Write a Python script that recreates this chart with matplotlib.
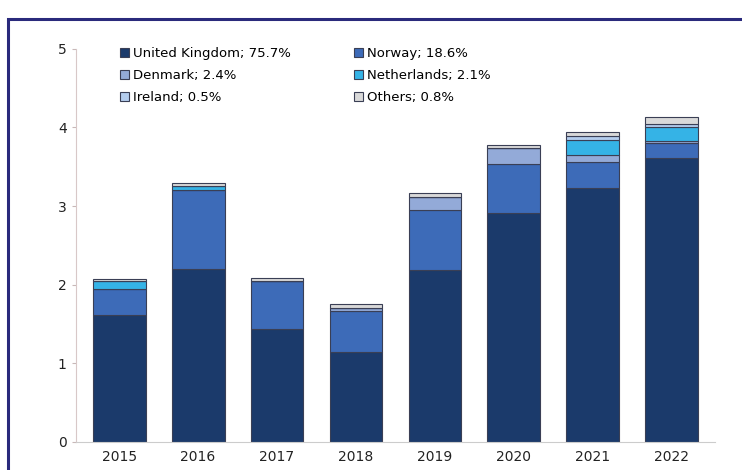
import matplotlib.pyplot as plt
import matplotlib.patches as mpatches
import numpy as np

years = ["2015", "2016", "2017", "2018", "2019", "2020", "2021", "2022"]
uk = [1.61, 2.20, 1.44, 1.14, 2.19, 2.91, 3.23, 3.61]
norway = [0.34, 1.01, 0.61, 0.53, 0.76, 0.62, 0.33, 0.19]
denmark = [0.00, 0.00, 0.00, 0.03, 0.16, 0.21, 0.09, 0.03]
netherlands = [0.10, 0.04, 0.00, 0.00, 0.00, 0.00, 0.19, 0.17]
ireland = [0.00, 0.00, 0.00, 0.00, 0.00, 0.00, 0.05, 0.05]
others = [0.02, 0.04, 0.03, 0.05, 0.06, 0.04, 0.05, 0.08]

series = [
    ("United Kingdom; 75.7%", uk, "#1b3a6b"),
    ("Norway; 18.6%", norway, "#3d6bb8"),
    ("Denmark; 2.4%", denmark, "#93aad8"),
    ("Netherlands; 2.1%", netherlands, "#35b3e6"),
    ("Ireland; 0.5%", ireland, "#b4cdee"),
    ("Others; 0.8%", others, "#d9d9d9"),
]

fig = plt.figure(figsize=(7.42, 4.70), dpi=100)
ax = fig.add_axes([0.102, 0.06, 0.862, 0.836])

x = np.arange(len(years))
bottom = np.zeros(len(years))
handles = {}
for label, vals, color in series:
    bars = ax.bar(x, vals, 0.67, bottom=bottom, color=color,
                  edgecolor="#3a3f55", linewidth=0.8, label=label)
    handles[label] = bars
    bottom += np.array(vals)

ax.set_xlim(-0.55, 7.55)
ax.set_ylim(0, 5)
ax.set_xticks(x)
ax.set_xticklabels(years, fontsize=10, color="#222222")
ax.set_yticks(range(6))
ax.tick_params(axis="y", labelsize=10, labelcolor="#222222", length=3, color="#c8b8b8")
ax.tick_params(axis="x", length=0, pad=6)
for s in ["top", "right"]:
    ax.spines[s].set_visible(False)
ax.spines["left"].set_color("#d8c8c8")
ax.spines["bottom"].set_color("#cccccc")

order = ["United Kingdom; 75.7%", "Denmark; 2.4%", "Ireland; 0.5%",
         "Norway; 18.6%", "Netherlands; 2.1%", "Others; 0.8%"]
ax.legend([handles[k] for k in order], order, ncol=2, loc="upper left",
          bbox_to_anchor=(0.05, 1.035), frameon=False, fontsize=9.5,
          handlelength=0.7, handleheight=0.7, handletextpad=0.3,
          columnspacing=4.8, labelspacing=0.7)

# navy frame around the chart
fig.patches.append(mpatches.Rectangle((8 / 742, -0.2), 1.2, 0.2 + (1 - 19 / 470),
                                      transform=fig.transFigure, fill=False,
                                      edgecolor="#2a2a7c", linewidth=2.2))

plt.savefig("out.png")
